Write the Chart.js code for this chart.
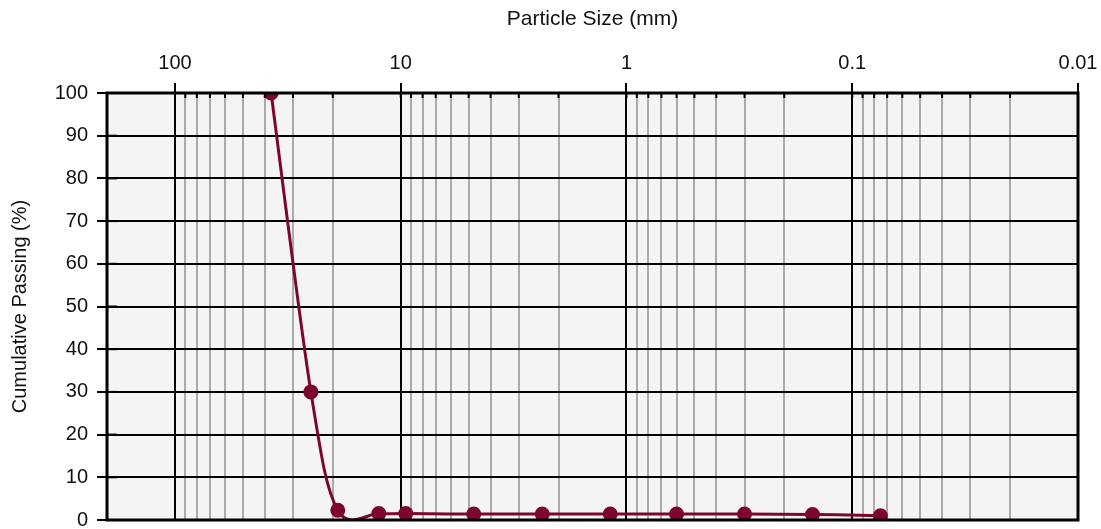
<!DOCTYPE html>
<html>
<head>
<meta charset="utf-8">
<title>Particle Size Distribution</title>
<script src="https://cdn.jsdelivr.net/npm/chart.js@4.4.1/dist/chart.umd.min.js"></script>
<style>
  html, body { margin: 0; padding: 0; background: #fff; }
  #wrap { width: 1101px; height: 529px; position: relative; }
</style>
</head>
<body>
<div id="wrap"><canvas id="gradationChart"></canvas></div>
<script>
// sieve sizes (mm) and cumulative passing (%)
const sieveSizes = [37.5, 25, 19, 12.5, 9.5, 4.75, 2.36, 1.18, 0.6, 0.3, 0.15, 0.075];
const passingPct = [100, 30, 2.3, 1.5, 1.5, 1.4, 1.4, 1.4, 1.4, 1.4, 1.3, 1.0];
const decadeLabels = [100, 10, 1, 0.1, 0.01];
const yTicks = [0, 10, 20, 30, 40, 50, 60, 70, 80, 90, 100];

const lineColor = '#7d0630';
const fontFamily = '"Liberation Sans", Arial, sans-serif';

function isDecade(v) {
  const l = Math.log10(v);
  return Math.abs(l - Math.round(l)) < 1e-9;
}

// plain catmull-rom control points (the original curve overshoots below 0)
const catmullRom = {
  id: 'catmullRom',
  afterDatasetsUpdate(chart) {
    chart.getSortedVisibleDatasetMetas().forEach(meta => {
      const pts = meta.data;
      meta.dataset.updateControlPoints(chart.chartArea, meta.indexAxis);
      pts.forEach((p, i) => {
        const prev = pts[i - 1] || p;
        const next = pts[i + 1] || p;
        const dx = (next.x - prev.x) / 6;
        const dy = (next.y - prev.y) / 6;
        p.cp1x = p.x - dx;
        p.cp1y = p.y - dy;
        p.cp2x = p.x + dx;
        p.cp2y = p.y + dy;
      });
    });
  }
};

// background + border + inner tick marks
const frameDecor = {
  id: 'frameDecor',
  beforeDraw(chart) {
    const { ctx, chartArea: a } = chart;
    ctx.save();
    ctx.fillStyle = '#f4f4f4';
    ctx.fillRect(a.left, a.top, a.right - a.left, a.bottom - a.top);
    ctx.restore();
  },
  afterDatasetsDraw(chart) {
    const { ctx, chartArea: a, scales } = chart;
    ctx.save();
    ctx.strokeStyle = '#000';
    ctx.lineWidth = 2;
    // y inner ticks
    scales.y.ticks.forEach(t => {
      const y = scales.y.getPixelForValue(t.value);
      const len = t.value % 10 === 0 ? 10 : 7;
      ctx.beginPath();
      ctx.moveTo(a.left, y);
      ctx.lineTo(a.left + len, y);
      ctx.stroke();
    });
    // x inner ticks on top edge
    scales.x.ticks.forEach(t => {
      const x = scales.x.getPixelForValue(t.value);
      ctx.beginPath();
      ctx.moveTo(x, a.top);
      ctx.lineTo(x, a.top + 5);
      ctx.stroke();
    });
    ctx.lineWidth = 3;
    ctx.strokeRect(a.left, a.top, a.right - a.left, a.bottom - a.top);
    ctx.restore();
  }
};

const ctx = document.getElementById('gradationChart').getContext('2d');
new Chart(ctx, {
  type: 'line',
  data: {
    datasets: [{
      label: 'Cumulative Passing',
      data: sieveSizes.map((s, i) => ({ x: s, y: passingPct[i] })),
      borderColor: lineColor,
      backgroundColor: lineColor,
      borderWidth: 3,
      pointRadius: 6,
      pointHoverRadius: 6,
      tension: 0.4,
      capBezierPoints: false,
      fill: false
    }]
  },
  options: {
    responsive: true,
    maintainAspectRatio: false,
    animation: false,
    layout: { padding: { top: 0, right: 23, bottom: 6, left: 0 } },
    plugins: {
      legend: { display: false },
      tooltip: { enabled: false }
    },
    scales: {
      x: {
        type: 'logarithmic',
        position: 'top',
        reverse: true,
        min: 0.01,
        max: 200,
        title: {
          display: true,
          text: 'Particle Size (mm)',
          color: '#111',
          font: { family: fontFamily, size: 21 },
          padding: { top: 7, bottom: 0 }
        },
        afterBuildTicks(scale) {
          const ticks = [];
          for (let e = -2; e <= 2; e++) {
            for (let m = 1; m <= 9; m++) {
              const v = Number((m * Math.pow(10, e)).toPrecision(3));
              if (v >= 0.01 && v <= 200) ticks.push({ value: v });
            }
          }
          ticks.push({ value: 200 });
          scale.ticks = ticks;
        },
        afterFit(scale) {
          scale.height = 93;
          scale.paddingLeft = 0;
          scale.paddingRight = 0;
        },
        ticks: {
          autoSkip: false,
          maxRotation: 0,
          color: '#111',
          padding: 8,
          font: { family: fontFamily, size: 20 },
          callback(value) {
            return decadeLabels.includes(value) ? String(value) : '';
          }
        },
        grid: {
          drawTicks: true,
          tickLength: 10,
          lineWidth: 2,
          color(c) { return c.tick && isDecade(c.tick.value) ? '#000' : '#aaaaaa'; },
          tickColor(c) { return c.tick && isDecade(c.tick.value) ? '#000' : 'rgba(0,0,0,0)'; }
        },
        border: { display: false }
      },
      y: {
        min: 0,
        max: 100,
        title: {
          display: true,
          text: 'Cumulative Passing (%)',
          color: '#111',
          font: { family: fontFamily, size: 20 },
          padding: { top: 8, bottom: 0 }
        },
        afterFit(scale) {
          scale.width = 107;
          scale.paddingTop = 0;
          scale.paddingBottom = 0;
        },
        ticks: {
          stepSize: 5,
          color: '#111',
          padding: 9,
          font: { family: fontFamily, size: 20 },
          callback(value) {
            return yTicks.includes(value) ? String(value) : '';
          }
        },
        grid: {
          tickLength: 10,
          lineWidth: 2,
          color(c) { return c.tick && c.tick.value % 10 === 0 ? '#000' : 'rgba(0,0,0,0)'; },
          tickColor(c) { return c.tick && c.tick.value % 10 === 0 ? '#000' : 'rgba(0,0,0,0)'; }
        },
        border: { display: false }
      }
    }
  },
  plugins: [catmullRom, frameDecor]
});
</script>
</body>
</html>
